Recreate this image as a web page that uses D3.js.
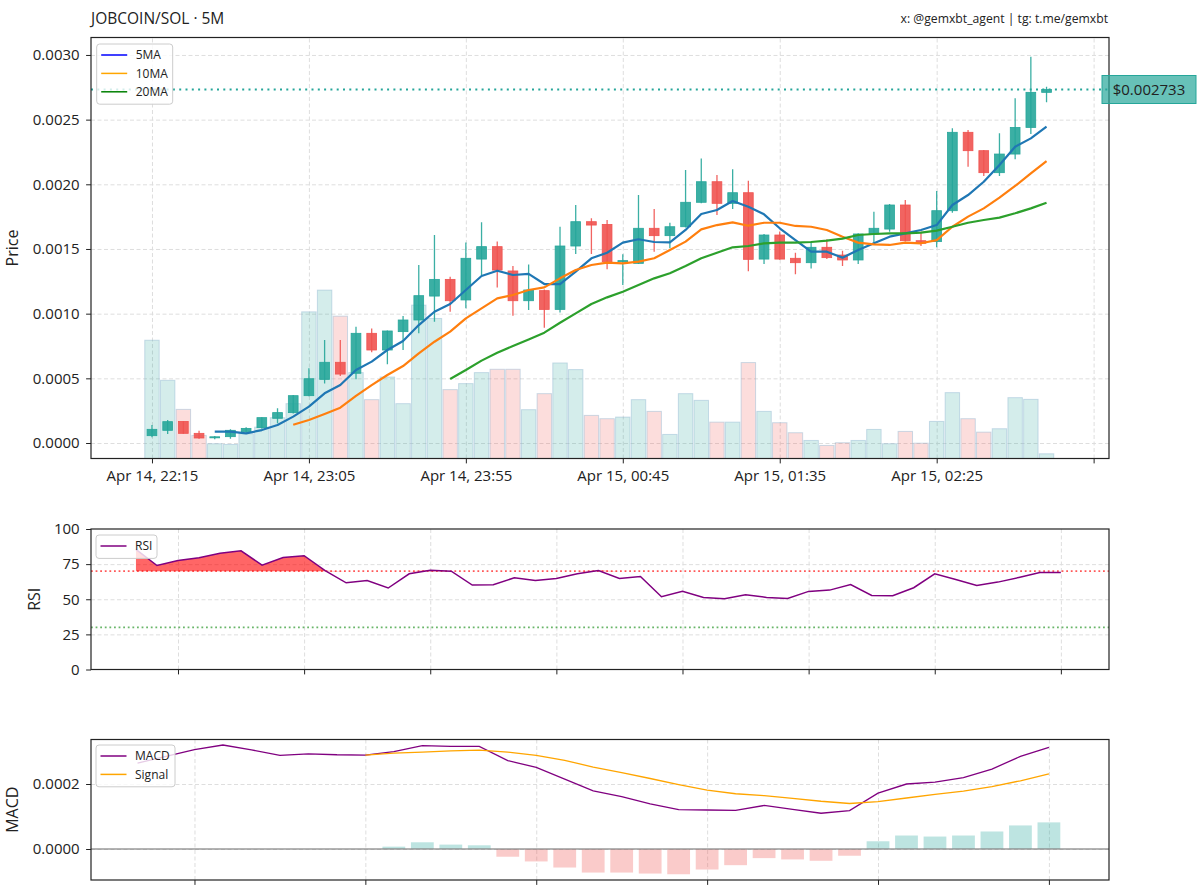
<!DOCTYPE html>
<html><head><meta charset="utf-8">
<script src="https://cdn.jsdelivr.net/npm/d3@7"></script>
<style>
body{margin:0;background:#fff}
svg{display:block}
text{font-family:"Open Sans","Noto Sans",sans-serif;fill:#222}
</style>
</head><body>
<svg id="chart" width="1200" height="896"></svg>
<script>
// ---------------- DATA ----------------
const xTickLabels = ["Apr 14, 22:15","Apr 14, 23:05","Apr 14, 23:55","Apr 15, 00:45","Apr 15, 01:35","Apr 15, 02:25",""];
const xTickIdx = [0,10,20,30,40,50,60];

const openP = [0.0000567,0.000098,0.000167,0.0000747,0.000040,0.000049,0.0000876,0.000119,0.000191,0.000235,
0.000366,0.000492,0.000624,0.000539,0.000848,0.000719,0.000861,0.000951,0.001136,0.001265,
0.001106,0.001422,0.001518,0.00133,0.0011,0.001178,0.001033,0.001523,0.001711,0.00169,
0.001404,0.001389,0.00166,0.001603,0.001672,0.001861,0.00202,0.001853,0.001935,0.001422,
0.001608,0.001428,0.001394,0.001513,0.001453,0.001415,0.001616,0.001654,0.00184,0.001564,
0.001557,0.001796,0.002402,0.00226,0.00209,0.002234,0.00244,0.002711];
const highP = [0.000139,0.000178,0.000169,0.0000953,0.000054,0.000106,0.000121,0.000199,0.000268,0.000371,
0.000577,0.000796,0.000796,0.000899,0.000886,0.000869,0.000982,0.001376,0.001608,0.001286,
0.001551,0.001706,0.001557,0.001368,0.001381,0.001186,0.001672,0.00184,0.001737,0.001724,
0.001459,0.001917,0.001809,0.001703,0.00211,0.0022,0.002072,0.002116,0.002028,0.001616,
0.001636,0.001471,0.001557,0.001575,0.001487,0.001621,0.001788,0.001848,0.001879,0.001634,
0.001948,0.002433,0.00242,0.002265,0.002394,0.002665,0.002987,0.002755];
const lowP = [0.0000438,0.0000696,0.000072,0.0000335,0.0000283,0.0000335,0.0000696,0.000111,0.000152,0.000229,
0.000361,0.000461,0.000518,0.000492,0.000701,0.000608,0.000719,0.000848,0.000938,0.001015,
0.001041,0.001299,0.001203,0.000984,0.001028,0.000892,0.001008,0.001461,0.001461,0.001343,
0.001221,0.001384,0.001479,0.001505,0.001667,0.001853,0.001763,0.00181,0.001327,0.001384,
0.001417,0.001304,0.00135,0.001422,0.001368,0.001384,0.001544,0.001634,0.001557,0.001523,
0.001513,0.001781,0.002136,0.002064,0.002064,0.002193,0.002389,0.002634];
const closeP = [0.0001057,0.000165,0.0000747,0.0000387,0.000048,0.000098,0.000113,0.000196,0.000235,0.000366,
0.000497,0.000624,0.000533,0.000848,0.000719,0.000866,0.000951,0.001139,0.001265,0.0011,
0.001428,0.001518,0.001337,0.0011,0.001183,0.001033,0.001523,0.001711,0.001685,0.001402,
0.00141,0.00166,0.001603,0.001672,0.001861,0.00202,0.001853,0.001935,0.00142,0.001608,
0.001422,0.001394,0.001513,0.001433,0.001415,0.001616,0.00166,0.00184,0.001564,0.001544,
0.001796,0.002402,0.00226,0.00209,0.002234,0.00244,0.002711,0.002733];
const volume = [1180,780,490,230,147,140,247,313,407,547,
1463,1680,1420,857,587,813,547,1530,1397,687,
747,857,890,890,487,647,953,887,430,397,
413,587,470,240,647,580,363,363,957,470,
357,257,180,130,157,180,290,147,270,153,
370,657,397,263,297,607,590,47];

const ma5 = [null,null,null,null,0.0000876,0.0000876,0.0000747,0.0001,0.000139,0.000204,
0.000281,0.000384,0.000448,0.000564,0.000629,0.000719,0.000789,0.000912,0.001015,0.001075,
0.001183,0.001291,0.001332,0.001299,0.001307,0.001229,0.001229,0.001325,0.001428,0.001471,
0.001549,0.001575,0.001554,0.001551,0.001647,0.00177,0.001801,0.001871,0.001827,0.001768,
0.00166,0.001569,0.001479,0.001479,0.001433,0.001492,0.001544,0.001595,0.001621,0.001647,
0.001685,0.00184,0.001917,0.00202,0.002149,0.002291,0.002355,0.002446];
const ma10 = [null,null,null,null,null,null,null,null,null,0.000141,
0.000178,0.000224,0.000273,0.000365,0.000448,0.000526,0.000595,0.000693,0.000783,0.000861,
0.000964,0.001041,0.001118,0.001144,0.001183,0.001203,0.001273,0.001337,0.001376,0.001394,
0.001389,0.001402,0.001428,0.001492,0.001557,0.001652,0.001685,0.001706,0.00168,0.001703,
0.001703,0.001678,0.001672,0.001647,0.001595,0.001549,0.001536,0.001531,0.001549,0.001544,
0.001569,0.001672,0.00175,0.001814,0.001897,0.001987,0.002085,0.00218];
const ma20 = [null,null,null,null,null,null,null,null,null,null,
null,null,null,null,null,null,null,null,null,0.000495,
0.000564,0.000637,0.000698,0.00075,0.000801,0.000853,0.00093,0.001002,0.001075,0.001126,
0.00117,0.001221,0.001273,0.001312,0.001368,0.001428,0.001471,0.001513,0.001523,0.001544,
0.001549,0.001549,0.001554,0.001564,0.00158,0.001608,0.001616,0.001621,0.001621,0.001626,
0.001642,0.001672,0.001703,0.001724,0.001742,0.001776,0.001814,0.001858];

const lastPrice = 0.002733;

const rsi = [85.5,74,77.6,79.5,82.8,84.5,74.3,79.7,81,70.3,
61.7,63.4,58,68.1,70.7,70,60.1,60.3,65.3,63.4,
64.8,68.1,70.5,64.8,66.2,51.8,55.6,51.3,50.4,53.2,
51.3,50.6,55.6,56.5,60.5,52.7,52.5,58.2,68.1,64.1,
59.8,62.2,65.5,69,69];

const macd = [0.000264,0.000285,0.000306,0.00032,0.000305,0.000288,0.000293,0.00029,0.000289,0.0003,
0.000318,0.000316,0.000316,0.000272,0.000251,0.000215,0.000179,0.000161,0.000139,0.000121,
0.00012,0.000119,0.000134,0.000122,0.00011,0.000118,0.000172,0.0002,0.000206,0.00022,
0.000246,0.000285,0.000313];
const signal = [null,null,null,null,null,null,null,null,0.000289,0.000295,
0.000298,0.000302,0.000304,0.000298,0.000288,0.000273,0.000252,0.000235,0.000217,0.000198,
0.000181,0.00017,0.000164,0.000156,0.000147,0.00014,0.000146,0.000157,0.000168,0.000178,
0.000192,0.00021,0.000231];
const hist = [null,null,null,null,null,null,null,null,0,0.0000073,
0.0000207,0.0000135,0.0000114,-0.0000238,-0.0000383,-0.000057,-0.0000725,-0.0000725,-0.0000756,-0.0000777,
-0.0000632,-0.0000497,-0.000028,-0.0000321,-0.0000363,-0.0000207,0.0000238,0.0000415,0.0000383,0.0000415,
0.0000539,0.0000725,0.0000819];

const priceTicks = [0,0.0005,0.001,0.0015,0.002,0.0025,0.003];
const rsiTicks = [0,25,50,75,100];
const macdTicks = [0,0.0002];
const rsiXTicks = [2,8,14,20,26,32,38,44];
const macdXTicks = [2,8,14,20,26,32];

// ---------------- LAYOUT ----------------
const UP = "#26a69a", DOWN = "#ef5350";
const L = 91, R = 1109;
const P = {top:37.5, bot:458.5};
const RS = {top:529, bot:669.5};
const MC = {top:739.5, bot:880};
const TICK_FS = 15;

const svg = d3.select("#chart");

const xMain = d3.scaleLinear().domain([-3.885, 60.98]).range([L, R]);
const yMain = d3.scaleLinear().domain([-0.0001198, 0.003135]).range([P.bot, P.top]);
const yVol = d3.scaleLinear().domain([0, d3.max(volume) * 2.5]).range([P.bot, P.top]);
const xRsi = d3.scaleLinear().domain([-2.138, 46.29]).range([L, R]);
const yRsi = d3.scaleLinear().domain([0, 100]).range([RS.bot, RS.top]);
const xMacd = d3.scaleLinear().domain([-1.633, 34.11]).range([L, R]);
const yMacd = d3.scaleLinear().domain([-0.0000954, 0.000337]).range([MC.bot, MC.top]);

function grid(x, y, xt, yt, pan) {
  const g = svg.append("g");
  g.append("g").attr("transform", `translate(0,${pan.bot})`)
    .call(d3.axisBottom(x).tickValues(xt).tickSize(-(pan.bot - pan.top)).tickFormat(""))
    .call(s => s.select(".domain").remove())
    .call(s => s.selectAll("line").attr("stroke", "#dedede").attr("stroke-width", 1).attr("stroke-dasharray", "4,2.5"));
  g.append("g").attr("transform", `translate(${L},0)`)
    .call(d3.axisLeft(y).tickValues(yt).tickSize(-(R - L)).tickFormat(""))
    .call(s => s.select(".domain").remove())
    .call(s => s.selectAll("line").attr("stroke", "#dedede").attr("stroke-width", 1).attr("stroke-dasharray", "4,2.5"));
}
function axes(x, y, xt, xfmt, yt, yfmt, pan) {
  const gx = svg.append("g").attr("transform", `translate(0,${pan.bot})`)
    .call(d3.axisBottom(x).tickValues(xt).tickSize(4.9).tickPadding(6.5).tickFormat(xfmt));
  gx.select(".domain").remove();
  gx.selectAll("line").attr("stroke", "#222");
  gx.selectAll("text").attr("font-size", TICK_FS).attr("fill", "#222");
  const gy = svg.append("g").attr("transform", `translate(${L},0)`)
    .call(d3.axisLeft(y).tickValues(yt).tickSize(4.9).tickPadding(6.5).tickFormat(yfmt));
  gy.select(".domain").remove();
  gy.selectAll("line").attr("stroke", "#222");
  gy.selectAll("text").attr("font-size", TICK_FS).attr("fill", "#222");
}
function frame(pan) {
  svg.append("rect").attr("x", L).attr("y", pan.top).attr("width", R - L).attr("height", pan.bot - pan.top)
    .attr("fill", "none").attr("stroke", "#222").attr("stroke-width", 1.2);
}
function ylabel(txt, x, pan) {
  svg.append("text").attr("transform", `translate(${x},${(pan.top + pan.bot) / 2}) rotate(-90)`)
    .attr("text-anchor", "middle").attr("font-size", 16).text(txt);
}
function legend(x, y, w, items) {
  const g = svg.append("g");
  const h = items.length * 18.4 + 5;
  g.append("rect").attr("x", x).attr("y", y).attr("width", w).attr("height", h).attr("rx", 3)
    .attr("fill", "#fff").attr("fill-opacity", 0.8).attr("stroke", "#cccccc");
  items.forEach((it, i) => {
    const cy = y + 11 + i * 18.4;
    g.append("line").attr("x1", x + 4.5).attr("x2", x + 30.5).attr("y1", cy).attr("y2", cy)
      .attr("stroke", it.c).attr("stroke-width", 1.5);
    g.append("text").attr("x", x + 39).attr("y", cy + 4.3).attr("font-size", 12).text(it.t);
  });
}

// ---------------- TITLE ----------------
svg.append("text").attr("x", 91).attr("y", 24).attr("font-size", 15.5).text("JOBCOIN/SOL · 5M");
svg.append("text").attr("x", 1108).attr("y", 22.5).attr("font-size", 12.2).attr("text-anchor", "end")
  .text("x: @gemxbt_agent | tg: t.me/gemxbt");

// ---------------- MAIN PANEL ----------------
svg.append("defs").selectAll("clipPath").data([["cm", P], ["cr", RS], ["cd", MC]]).join("clipPath")
  .attr("id", d => d[0]).append("rect")
  .attr("x", L).attr("y", d => d[1].top).attr("width", R - L).attr("height", d => d[1].bot - d[1].top);

grid(xMain, yMain, xTickIdx, priceTicks, P);
const gm = svg.append("g").attr("clip-path", "url(#cm)");
const step = xMain(1) - xMain(0);
const idx = d3.range(openP.length);

// volume
gm.append("g").selectAll("rect").data(idx).join("rect")
  .attr("x", i => xMain(i) - step * 0.46).attr("width", step * 0.92)
  .attr("y", i => yVol(volume[i])).attr("height", i => yVol(0) - yVol(volume[i]))
  .attr("fill", i => closeP[i] >= openP[i] ? UP : DOWN).attr("fill-opacity", 0.2)
  .attr("stroke", "#8fb6d0").attr("stroke-opacity", 0.45).attr("stroke-width", 1);

// price line
gm.append("line").attr("x1", L).attr("x2", R).attr("y1", yMain(lastPrice)).attr("y2", yMain(lastPrice))
  .attr("stroke", UP).attr("stroke-width", 2).attr("stroke-dasharray", "2,4.3");

// candles
const cg = gm.append("g");
cg.selectAll("line").data(idx).join("line")
  .attr("x1", i => xMain(i)).attr("x2", i => xMain(i))
  .attr("y1", i => yMain(highP[i])).attr("y2", i => yMain(lowP[i]))
  .attr("stroke", i => closeP[i] >= openP[i] ? UP : DOWN).attr("stroke-width", 1.3).attr("stroke-opacity", 0.9);
cg.selectAll("rect").data(idx).join("rect")
  .attr("x", i => xMain(i) - step * 0.31).attr("width", step * 0.62)
  .attr("y", i => yMain(Math.max(openP[i], closeP[i])))
  .attr("height", i => Math.max(1, Math.abs(yMain(openP[i]) - yMain(closeP[i]))))
  .attr("fill", i => closeP[i] >= openP[i] ? UP : DOWN).attr("fill-opacity", 0.9)
  .attr("stroke", i => closeP[i] >= openP[i] ? UP : DOWN).attr("stroke-width", 0.8);

// MAs
const maLine = arr => d3.line().defined(i => arr[i] != null).x(i => xMain(i)).y(i => yMain(arr[i]))(idx);
[[ma5, "#1f77b4"], [ma10, "#ff7f0e"], [ma20, "#2ca02c"]].forEach(([a, c]) => {
  gm.append("path").attr("d", maLine(a)).attr("fill", "none").attr("stroke", c)
    .attr("stroke-width", 2.2).attr("stroke-linejoin", "round");
});

axes(xMain, yMain, xTickIdx, (d, i) => xTickLabels[i], priceTicks, d3.format(".4f"), P);
frame(P);
ylabel("Price", 18, P);
legend(96.7, 44, 76, [{t: "5MA", c: "#0000ff"}, {t: "10MA", c: "#ffa500"}, {t: "20MA", c: "#008000"}]);

// last price tag
const py = yMain(lastPrice);
svg.append("rect").attr("x", 1102).attr("y", py - 14).attr("width", 94).attr("height", 28)
  .attr("fill", UP).attr("fill-opacity", 0.7).attr("stroke", UP).attr("stroke-width", 1);
svg.append("text").attr("x", 1149).attr("y", py + 5.3).attr("text-anchor", "middle").attr("font-size", 15)
  .attr("fill", "#111").text("$" + lastPrice.toFixed(6));

// ---------------- RSI PANEL ----------------
grid(xRsi, yRsi, rsiXTicks, [25, 50, 75], RS);
const gr = svg.append("g").attr("clip-path", "url(#cr)");
const ri = d3.range(rsi.length);
gr.append("path").attr("d", d3.area().x(i => xRsi(i)).y0(yRsi(70)).y1(i => yRsi(Math.max(rsi[i], 70)))(ri))
  .attr("fill", "#ff0000").attr("fill-opacity", 0.6);
gr.append("line").attr("x1", L).attr("x2", R).attr("y1", yRsi(70)).attr("y2", yRsi(70))
  .attr("stroke", "#ff0000").attr("stroke-opacity", 0.65).attr("stroke-width", 1.8).attr("stroke-dasharray", "1.8,2.8");
gr.append("line").attr("x1", L).attr("x2", R).attr("y1", yRsi(30)).attr("y2", yRsi(30))
  .attr("stroke", "#1a8f1a").attr("stroke-opacity", 0.65).attr("stroke-width", 1.8).attr("stroke-dasharray", "1.8,2.8");
gr.append("path").attr("d", d3.line().x(i => xRsi(i)).y(i => yRsi(rsi[i]))(ri))
  .attr("fill", "none").attr("stroke", "#800080").attr("stroke-width", 1.5);
axes(xRsi, yRsi, rsiXTicks, () => "", rsiTicks, d3.format("d"), RS);
frame(RS);
ylabel("RSI", 40, RS);
legend(96, 535, 61, [{t: "RSI", c: "#800080"}]);

// ---------------- MACD PANEL ----------------
grid(xMacd, yMacd, macdXTicks, macdTicks, MC);
const gd = svg.append("g").attr("clip-path", "url(#cd)");
const mi = d3.range(macd.length);
const mstep = xMacd(1) - xMacd(0);
gd.append("g").selectAll("rect").data(mi.filter(i => hist[i] != null && hist[i] !== 0)).join("rect")
  .attr("x", i => xMacd(i) - mstep * 0.4).attr("width", mstep * 0.8)
  .attr("y", i => yMacd(Math.max(0, hist[i]))).attr("height", i => Math.abs(yMacd(hist[i]) - yMacd(0)))
  .attr("fill", i => hist[i] >= 0 ? UP : DOWN).attr("fill-opacity", 0.3);
gd.append("line").attr("x1", L).attr("x2", R).attr("y1", yMacd(0)).attr("y2", yMacd(0))
  .attr("stroke", "#808080").attr("stroke-opacity", 0.6).attr("stroke-width", 2);
gd.append("path").attr("d", d3.line().x(i => xMacd(i)).y(i => yMacd(macd[i]))(mi))
  .attr("fill", "none").attr("stroke", "#800080").attr("stroke-width", 1.3);
gd.append("path").attr("d", d3.line().defined(i => signal[i] != null).x(i => xMacd(i)).y(i => yMacd(signal[i]))(mi))
  .attr("fill", "none").attr("stroke", "#ffa500").attr("stroke-width", 1.3);
axes(xMacd, yMacd, macdXTicks, () => "", macdTicks, d3.format(".4f"), MC);
frame(MC);
ylabel("MACD", 18, MC);
legend(96, 745, 79, [{t: "MACD", c: "#800080"}, {t: "Signal", c: "#ffa500"}]);
</script>
</body></html>
